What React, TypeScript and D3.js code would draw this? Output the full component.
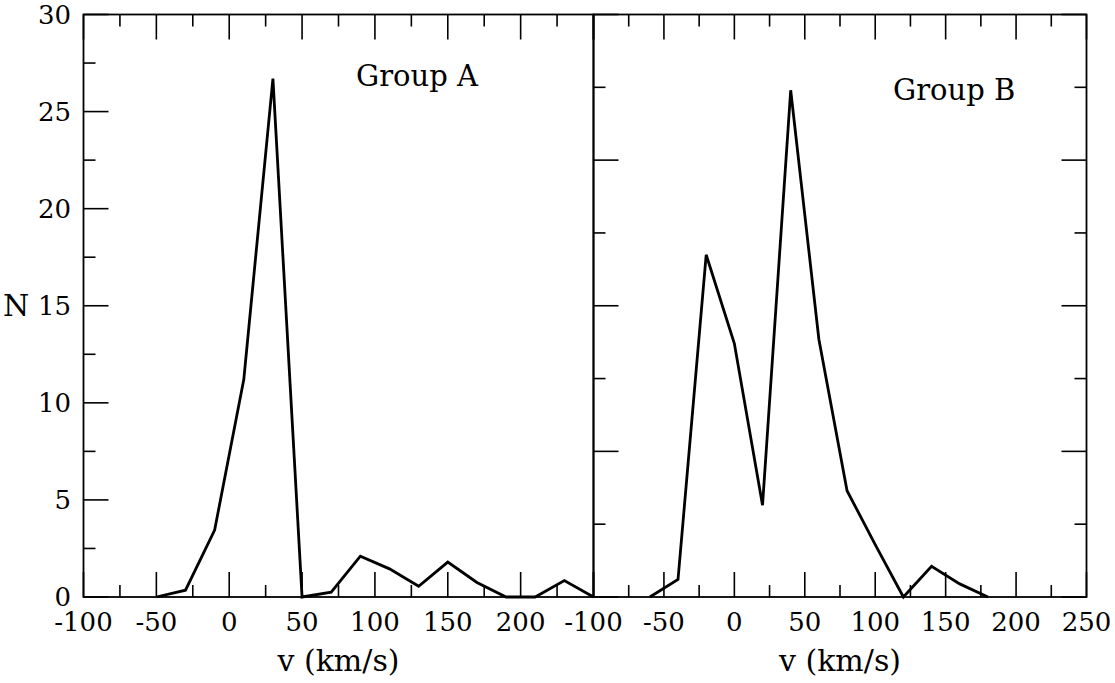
import React from "react";
import * as d3 from "d3";

// ---------- data ----------
const velocityA = [-50, -30, -10, 10, 30, 50, 70, 90, 110, 130, 150, 170, 190, 210, 230, 250];
const countA = [0, 0.35, 3.45, 11.2, 26.7, 0, 0.25, 2.1, 1.45, 0.55, 1.8, 0.75, 0, 0, 0.85, 0];

const velocityB = [-60, -40, -20, 0, 20, 40, 60, 80, 100, 120, 140, 160, 180];
const countB = [0, 1.2, 23.5, 17.4, 6.3, 34.8, 17.7, 7.3, 3.6, 0, 2.1, 0.9, 0];

const xMajorTicks = [-100, -50, 0, 50, 100, 150, 200, 250];
const xMinorTicks = [-75, -25, 25, 75, 125, 175, 225];
const xLabelsA = ["-100", "-50", "0", "50", "100", "150", "200"];
const xLabelsB = ["-100", "-50", "0", "50", "100", "150", "200", "250"];

const yMajorA = [0, 5, 10, 15, 20, 25, 30];
const yMinorA = [2.5, 7.5, 12.5, 17.5, 22.5, 27.5];
const yMajorB = [0, 10, 20, 30, 40];
const yMinorB = [5, 15, 25, 35];

const groupLabels = ["Group A", "Group B"];
const xTitle = "v (km/s)";
const yTitle = "N";

// ---------- layout ----------
const W = 1115;
const H = 683;
const top = 14.5;
const bottom = 597;
const leftA = 83.5;
const mid = 593.5;
const rightB = 1086.5;
const MAJ = 25;
const MIN = 12;
const FONT = '"DejaVu Serif", "Liberation Serif", "Noto Serif", serif';

export default function App() {
  const xA = d3.scaleLinear().domain([-100, 250]).range([leftA, mid]);
  const xB = d3.scaleLinear().domain([-100, 250]).range([mid, rightB]);
  const yA = d3.scaleLinear().domain([0, 30]).range([bottom, top]);
  const yB = d3.scaleLinear().domain([0, 40]).range([bottom, top]);

  const lineA = d3
    .line<number>()
    .x((_, i) => xA(velocityA[i]))
    .y((d) => yA(d));
  const lineB = d3
    .line<number>()
    .x((_, i) => xB(velocityB[i]))
    .y((d) => yB(d));

  const tickStroke = { stroke: "#000", strokeWidth: 1.6 };
  const txt = (size: number): React.CSSProperties => ({ fontFamily: FONT, fontSize: size });

  const xTicks = (x: d3.ScaleLinear<number, number>, key: string) => (
    <g key={key}>
      {xMajorTicks.map((v) => (
        <g key={"M" + v}>
          <line x1={x(v)} x2={x(v)} y1={top} y2={top + MAJ} {...tickStroke} />
          <line x1={x(v)} x2={x(v)} y1={bottom} y2={bottom - MAJ} {...tickStroke} />
        </g>
      ))}
      {xMinorTicks.map((v) => (
        <g key={"m" + v}>
          <line x1={x(v)} x2={x(v)} y1={top} y2={top + MIN} {...tickStroke} />
          <line x1={x(v)} x2={x(v)} y1={bottom} y2={bottom - MIN} {...tickStroke} />
        </g>
      ))}
    </g>
  );

  return (
    <svg
      width={W}
      height={H}
      style={{ position: "absolute", left: 0, top: 0, background: "#fff" }}
    >
      <rect x={0} y={0} width={W} height={H} fill="#fff" />

      {/* Panel A ticks */}
      {xTicks(xA, "xa")}
      {yMajorA.map((v) => (
        <line key={"yaM" + v} x1={leftA} x2={leftA + MAJ} y1={yA(v)} y2={yA(v)} {...tickStroke} />
      ))}
      {yMinorA.map((v) => (
        <line key={"yam" + v} x1={leftA} x2={leftA + MIN} y1={yA(v)} y2={yA(v)} {...tickStroke} />
      ))}

      {/* Panel B ticks */}
      {xTicks(xB, "xb")}
      {yMajorB.map((v) => (
        <g key={"ybM" + v}>
          <line x1={mid} x2={mid + MAJ} y1={yB(v)} y2={yB(v)} {...tickStroke} />
          <line x1={rightB} x2={rightB - MAJ} y1={yB(v)} y2={yB(v)} {...tickStroke} />
        </g>
      ))}
      {yMinorB.map((v) => (
        <g key={"ybm" + v}>
          <line x1={mid} x2={mid + MIN} y1={yB(v)} y2={yB(v)} {...tickStroke} />
          <line x1={rightB} x2={rightB - MIN} y1={yB(v)} y2={yB(v)} {...tickStroke} />
        </g>
      ))}

      {/* Data lines */}
      <path d={lineA(countA) || ""} fill="none" stroke="#000" strokeWidth={2.8} strokeLinejoin="miter" />
      <path d={lineB(countB) || ""} fill="none" stroke="#000" strokeWidth={2.8} strokeLinejoin="miter" />

      {/* Frames */}
      <rect x={leftA} y={top} width={mid - leftA} height={bottom - top} fill="none" stroke="#000" strokeWidth={1.8} />
      <rect x={mid} y={top} width={rightB - mid} height={bottom - top} fill="none" stroke="#000" strokeWidth={1.8} />

      {/* Y tick labels (panel A) */}
      {yMajorA.map((v) => (
        <text key={"yl" + v} x={71} y={yA(v) + 9} textAnchor="end" style={txt(26)}>
          {String(v)}
        </text>
      ))}

      {/* X tick labels */}
      {xLabelsA.map((s, i) => (
        <text key={"xla" + i} x={xA(xMajorTicks[i])} y={631} textAnchor="middle" style={txt(26)}>
          {s}
        </text>
      ))}
      {xLabelsB.map((s, i) => (
        <text key={"xlb" + i} x={xB(xMajorTicks[i])} y={631} textAnchor="middle" style={txt(26)}>
          {s}
        </text>
      ))}

      {/* Axis titles */}
      <text x={(leftA + mid) / 2} y={671} textAnchor="middle" style={txt(30)}>
        {xTitle}
      </text>
      <text x={(mid + rightB) / 2} y={671} textAnchor="middle" style={txt(30)}>
        {xTitle}
      </text>
      <text x={3} y={316} style={txt(30)}>
        {yTitle}
      </text>

      {/* Group labels */}
      <text x={356} y={86} style={txt(29)}>
        {groupLabels[0]}
      </text>
      <text x={893} y={100} style={txt(29)}>
        {groupLabels[1]}
      </text>
    </svg>
  );
}
